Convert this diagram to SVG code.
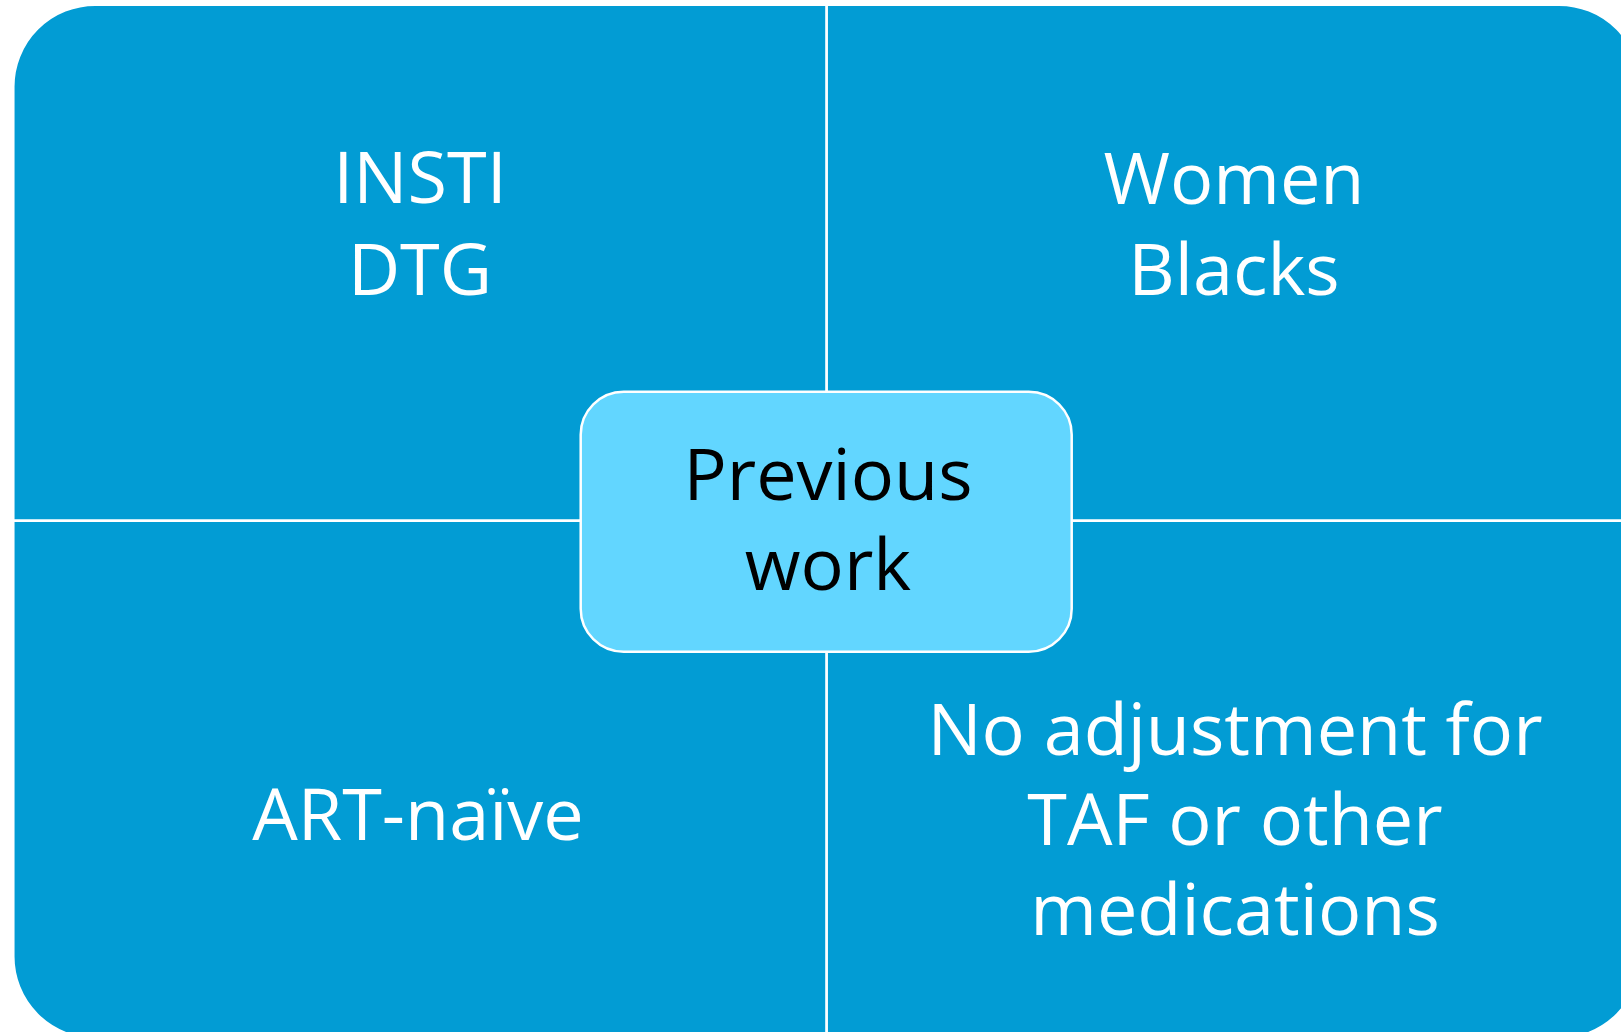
<svg xmlns="http://www.w3.org/2000/svg" width="1621" height="1032" viewBox="0 0 1621 1032">
<style>
.quad{fill:#029CD4;stroke:#FFFFFF;stroke-width:2.5}
.center{fill:#62D6FF;stroke:#FFFFFF;stroke-width:2.5}
.lbl{font-family:"Open Sans","Liberation Sans",sans-serif;font-size:72px;text-anchor:middle}
.w{fill:#FFFFFF}
.k{fill:#000000}
</style>
<rect x="0" y="0" width="1621" height="1032" fill="#FFFFFF"/>
<g id="quad-top-left">
<path class="quad" d="M13.3,520.7 V86.7 A82,82 0 0 1 95.3,4.7 H826.7 V520.7 Z"/>
<text class="lbl w" x="420" y="203">INSTI</text>
<text class="lbl w" x="420" y="295">DTG</text>
</g>
<g id="quad-top-right">
<path class="quad" d="M826.7,4.7 H1559 A82,82 0 0 1 1641,86.7 V520.7 H826.7 Z"/>
<text class="lbl w" x="1234" y="204">Women</text>
<text class="lbl w" x="1234" y="295">Blacks</text>
</g>
<g id="quad-bottom-left">
<path class="quad" d="M13.3,520.7 H826.7 V1038.6 H95.3 A82,82 0 0 1 13.3,956.6 Z"/>
<text class="lbl w" x="418" y="840">ART-naïve</text>
</g>
<g id="quad-bottom-right">
<path class="quad" d="M826.7,520.7 H1641 V956.6 A82,82 0 0 1 1559,1038.6 H826.7 Z"/>
<text class="lbl w" x="1235" y="755">No adjustment for</text>
<text class="lbl w" x="1235" y="845">TAF or other</text>
<text class="lbl w" x="1235" y="935">medications</text>
</g>
<g id="connectors"></g>
<g id="center-node">
<rect class="center" x="580.7" y="391.7" width="491" height="260" rx="43" ry="43"/>
<text class="lbl k" x="828" y="500">Previous</text>
<text class="lbl k" x="828" y="590">work</text>
</g>
</svg>
